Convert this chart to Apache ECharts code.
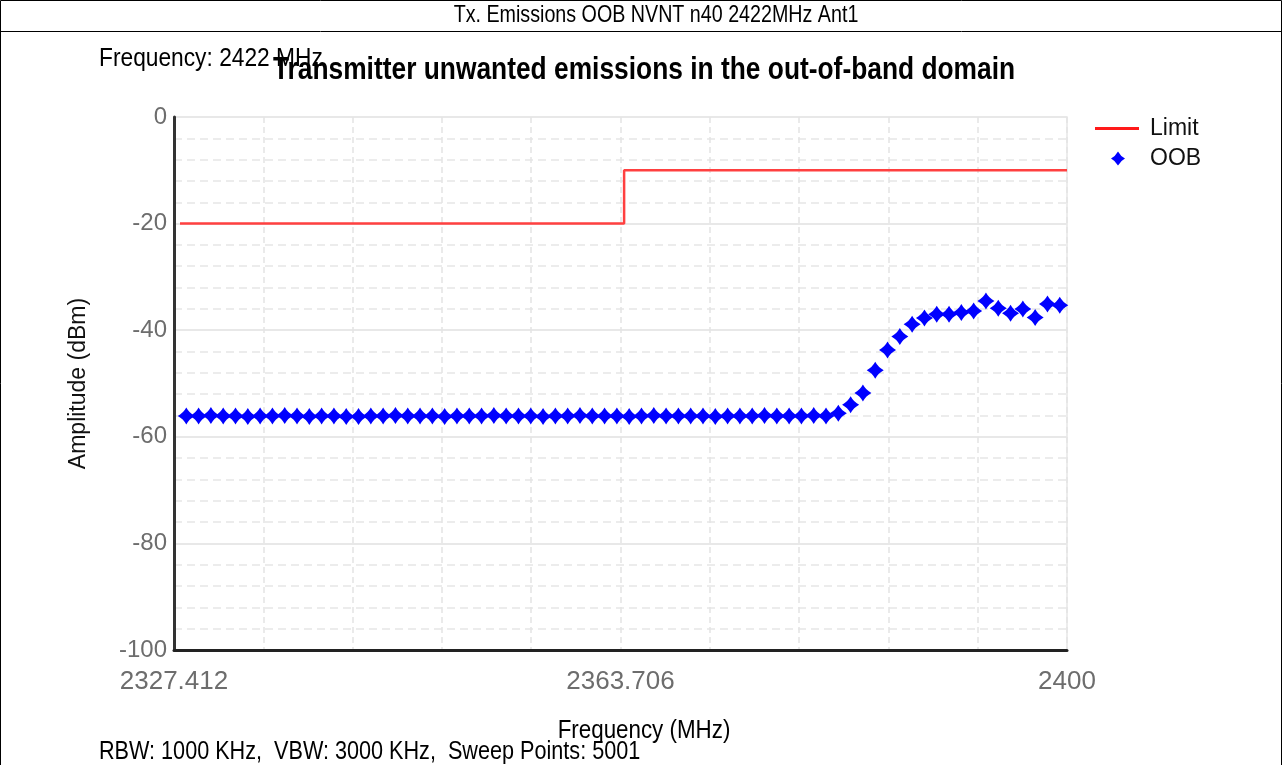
<!DOCTYPE html>
<html>
<head>
<meta charset="utf-8">
<title>Tx. Emissions OOB NVNT n40 2422MHz Ant1</title>
<script src="https://cdn.jsdelivr.net/npm/echarts@6/dist/echarts.min.js"></script>
<style>
  html, body { margin: 0; padding: 0; background: #ffffff; }
  #chart { width: 1282px; height: 765px; }
</style>
</head>
<body>
<div id="chart"></div>
<script>
// Measured OOB points (MHz, dBm)
const oobFreqs = [
  2328.412, 2329.412, 2330.412, 2331.412, 2332.412, 2333.412, 2334.412, 2335.412,
  2336.412, 2337.412, 2338.412, 2339.412, 2340.412, 2341.412, 2342.412, 2343.412,
  2344.412, 2345.412, 2346.412, 2347.412, 2348.412, 2349.412, 2350.412, 2351.412,
  2352.412, 2353.412, 2354.412, 2355.412, 2356.412, 2357.412, 2358.412, 2359.412,
  2360.412, 2361.412, 2362.412, 2363.412, 2364.412, 2365.412, 2366.412, 2367.412,
  2368.412, 2369.412, 2370.412, 2371.412, 2372.412, 2373.412, 2374.412, 2375.412,
  2376.412, 2377.412, 2378.412, 2379.412, 2380.412, 2381.412, 2382.412, 2383.412,
  2384.412, 2385.412, 2386.412, 2387.412, 2388.412, 2389.412, 2390.412, 2391.412,
  2392.412, 2393.412, 2394.412, 2395.412, 2396.412, 2397.412, 2398.412, 2399.412
];
const oobLevels = [
  -56.1, -56.1, -56.0, -56.1, -56.1, -56.2, -56.1, -56.1,
  -56.0, -56.1, -56.2, -56.1, -56.1, -56.2, -56.2, -56.1,
  -56.1, -56.0, -56.1, -56.1, -56.1, -56.2, -56.1, -56.1,
  -56.1, -56.0, -56.1, -56.1, -56.1, -56.2, -56.1, -56.1,
  -56.0, -56.1, -56.1, -56.1, -56.2, -56.1, -56.0, -56.1,
  -56.1, -56.1, -56.1, -56.2, -56.1, -56.1, -56.1, -56.0,
  -56.1, -56.1, -56.1, -56.0, -56.1, -55.6, -54.0, -51.8,
  -47.5, -43.7, -41.2, -38.9, -37.7, -37.0, -37.0, -36.7,
  -36.4, -34.5, -35.9, -36.8, -36.0, -37.6, -35.1, -35.3
];

// Limit mask (MHz, dBm)
const limitFreqs = [2327.9, 2364.0, 2364.0, 2400.0];
const limitLevels = [-20, -20, -10, -10];

// Axis ranges and tick labels
const freqMin = 2327.412;
const freqMax = 2400;
const xTickLabels = ['2327.412', '2363.706', '2400'];

const FONT = '"Liberation Sans", Arial, sans-serif';
const STAR = 'path://M0,-10 Q3.5,-3.5 10,0 Q3.5,3.5 0,10 Q-3.5,3.5 -10,0 Q-3.5,-3.5 0,-10 Z';

const oobData = oobFreqs.map((f, i) => [f, oobLevels[i]]);
const limitData = limitFreqs.map((f, i) => [f, limitLevels[i]]);

// condensed text helper for the report captions
function caption(text, x, y, size, scaleX, align, weight) {
  return {
    type: 'text', x: x, y: y, scaleX: scaleX, silent: true,
    style: {
      text: text, fill: '#000000',
      font: (weight || 'normal') + ' ' + size + 'px ' + FONT,
      textAlign: align, textVerticalAlign: 'middle'
    }
  };
}

const chart = echarts.init(document.getElementById('chart'), null, { renderer: 'canvas' });

chart.setOption({
  backgroundColor: '#ffffff',
  animation: false,
  textStyle: { fontFamily: FONT },
  grid: {
    left: 174, right: 215, top: 117, bottom: 115, containLabel: false,
    show: true, borderColor: '#e6e6e6', borderWidth: 1.5, backgroundColor: 'transparent'
  },
  legend: [
    {
      data: [{ name: 'Limit', icon: 'rect' }],
      left: 1095, top: 117, padding: 0,
      itemWidth: 44, itemHeight: 3,
      textStyle: { fontFamily: FONT, fontSize: 23, color: '#111111', padding: [0, 0, 0, 6] }
    },
    {
      data: [{ name: 'OOB', icon: STAR, itemStyle: { opacity: 1, color: '#0000ff' } }],
      left: 1111, top: 147, padding: 0,
      itemWidth: 14, itemHeight: 14,
      textStyle: { fontFamily: FONT, fontSize: 23, color: '#111111', padding: [0, 0, 0, 20] }
    }
  ],
  xAxis: [
    {
      // data axis in MHz
      type: 'value', min: freqMin, max: freqMax,
      axisLine: { show: false }, axisTick: { show: false },
      axisLabel: { show: false }, splitLine: { show: false }
    },
    {
      // ten grid divisions across the span, labelled at both ends and the centre
      type: 'value', min: 0, max: 10, interval: 1, position: 'bottom',
      axisLine: { show: true, onZero: false, lineStyle: { color: '#222222', width: 3 } },
      axisTick: { show: false },
      axisLabel: {
        show: true, margin: 19, showMinLabel: true, showMaxLabel: true, hideOverlap: false,
        fontFamily: FONT, fontSize: 26, color: '#6d6d6d',
        formatter: function (v) {
          if (v === 0) return xTickLabels[0];
          if (v === 5) return xTickLabels[1];
          if (v === 10) return xTickLabels[2];
          return '';
        }
      },
      splitLine: { show: true, lineStyle: { color: '#e3e3e3', width: 1.5, type: [6, 4] } }
    }
  ],
  yAxis: {
    type: 'value', min: -100, max: 0, interval: 20,
    axisLine: { show: true, lineStyle: { color: '#333333', width: 3 } },
    axisTick: { show: false },
    axisLabel: { margin: 7, fontFamily: FONT, fontSize: 24, color: '#6d6d6d' },
    splitLine: { show: true, lineStyle: { color: '#e8e8e8', width: 2 } },
    minorTick: { show: false, splitNumber: 5 },
    minorSplitLine: { show: true, lineStyle: { color: '#e6e6e6', width: 1.5, type: [8, 5] } },
    name: 'Amplitude (dBm)', nameLocation: 'middle', nameGap: 84, nameRotate: 90,
    nameTextStyle: { fontFamily: FONT, fontSize: 23, color: '#111111' }
  },
  series: [
    {
      name: 'Limit', type: 'line', xAxisIndex: 0, data: limitData,
      showSymbol: false, symbol: 'none',
      lineStyle: { color: '#ff4040', width: 2.5 },
      itemStyle: { color: '#ff1a1a' },
      z: 3
    },
    {
      name: 'OOB', type: 'scatter', xAxisIndex: 0, data: oobData,
      symbol: STAR, symbolSize: 17,
      itemStyle: { color: '#0000ff', opacity: 1 },
      z: 4
    }
  ],
  graphic: [
    // report table frame with its header row
    { type: 'rect', shape: { x: 0.5, y: 0.5, width: 1281, height: 800 }, style: { fill: 'none', stroke: '#000000', lineWidth: 1 }, silent: true },
    { type: 'line', shape: { x1: 0, y1: 31.5, x2: 1282, y2: 31.5 }, style: { stroke: '#000000', lineWidth: 1 }, silent: true },
    caption('Tx. Emissions OOB NVNT n40 2422MHz Ant1', 656, 15, 24, 0.82, 'center'),
    caption('Frequency: 2422 MHz', 99, 59, 25, 0.91, 'left'),
    caption('Transmitter unwanted emissions in the out-of-band domain', 644, 70, 31, 0.85, 'center', 'bold'),
    caption('Frequency (MHz)', 644, 731, 26, 0.86, 'center'),
    caption('RBW: 1000 KHz,  VBW: 3000 KHz,  Sweep Points: 5001', 99, 752, 25, 0.865, 'left')
  ]
});
</script>
</body>
</html>
